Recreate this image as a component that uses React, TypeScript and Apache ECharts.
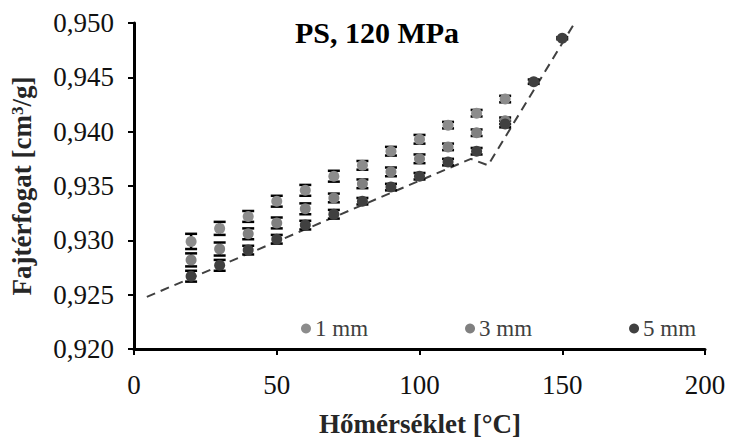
import React, { useEffect, useRef } from 'react';
import * as echarts from 'echarts';

const temps = [20, 30, 40, 50, 60, 70, 80, 90, 100, 110, 120, 130];
const temps5 = [20, 30, 40, 50, 60, 70, 80, 90, 100, 110, 120, 130, 140, 150];
const v1mm = [0.9299, 0.9311, 0.9322, 0.9336, 0.9346, 0.9359, 0.9369, 0.9382, 0.9393, 0.9406, 0.9417, 0.9430];
const v3mm = [0.9282, 0.9292, 0.9306, 0.9316, 0.9329, 0.9339, 0.9352, 0.9363, 0.9375, 0.9386, 0.9399, 0.9410];
const v5mm = [0.9267, 0.9277, 0.9291, 0.9301, 0.9314, 0.9324, 0.9336, 0.9349, 0.9359, 0.9372, 0.9382, 0.9407, 0.9446, 0.9486];
const e1mm = [0.0007, 0.0006, 0.0005, 0.0005, 0.0005, 0.0005, 0.0004, 0.0004, 0.0004, 0.0003, 0.0003, 0.0003];
const e3mm = [0.0006, 0.0006, 0.0005, 0.0005, 0.0005, 0.0004, 0.0004, 0.0004, 0.0004, 0.0003, 0.0003, 0.0003];
const e5mm = [0.0005, 0.0005, 0.0004, 0.0004, 0.0004, 0.0004, 0.0003, 0.0003, 0.0003, 0.0003, 0.0003, 0.0003, 0.0002, 0.0001];
const fitX = [4.5, 118, 124, 155];
const fitY = [0.9248, 0.9375, 0.9369, 0.9503];
const seriesNames = ['1 mm', '3 mm', '5 mm'];
const xTicks = [0, 50, 100, 150, 200];
const yTicks = [0.92, 0.925, 0.93, 0.935, 0.94, 0.945, 0.95];

const FONT = 'Liberation Serif';
const colors = ['#8c8c8c', '#808080', '#404040'];

function errSeries(xs: number[], ys: number[], es: number[]) {
  return {
    type: 'custom',
    silent: true,
    z: 1,
    data: xs.map((x, i) => [x, ys[i], es[i]]),
    renderItem: (params: any, api: any) => {
      const x = api.value(0);
      const y = api.value(1);
      const e = api.value(2);
      const top = api.coord([x, y + e]);
      const bot = api.coord([x, y - e]);
      const hw = 6;
      const st = { stroke: '#000', lineWidth: 2.5 };
      return {
        type: 'group',
        children: [
          { type: 'line', shape: { x1: top[0], y1: top[1], x2: bot[0], y2: bot[1] }, style: st },
          { type: 'line', shape: { x1: top[0] - hw, y1: top[1], x2: top[0] + hw, y2: top[1] }, style: st },
          { type: 'line', shape: { x1: bot[0] - hw, y1: bot[1], x2: bot[0] + hw, y2: bot[1] }, style: st },
        ],
      };
    },
  };
}

export default function App() {
  const ref = useRef<HTMLDivElement>(null);
  useEffect(() => {
    if (!ref.current) return;
    const chart = echarts.init(ref.current, undefined, { renderer: 'svg' });
    const fmt = (v: number) => v.toFixed(3).replace('.', ',');
    chart.setOption({
      animation: false,
      backgroundColor: '#fff',
      textStyle: { fontFamily: FONT },
      grid: { left: 134, right: 24, top: 23, bottom: 90, containLabel: false },
      xAxis: {
        type: 'value',
        min: xTicks[0],
        max: xTicks[xTicks.length - 1],
        interval: 50,
        axisLine: { show: true, lineStyle: { color: '#000', width: 3 } },
        axisTick: { show: true, inside: false, length: 6, lineStyle: { color: '#000', width: 2 } },
        axisLabel: { color: '#111', fontSize: 27, fontFamily: FONT, margin: 22 },
        splitLine: { show: false },
      },
      yAxis: {
        type: 'value',
        min: yTicks[0],
        max: yTicks[yTicks.length - 1],
        interval: 0.005,
        axisLine: { show: true, lineStyle: { color: '#000', width: 3 } },
        axisTick: { show: true, inside: false, length: 6, lineStyle: { color: '#000', width: 2 } },
        axisLabel: { color: '#111', fontSize: 27, fontFamily: FONT, margin: 20, formatter: fmt },
        splitLine: { show: false },
      },
      legend: {
        data: seriesNames,
        left: 296,
        top: 312,
        itemGap: 97,
        itemWidth: 10,
        itemHeight: 10,
        icon: 'circle',
        textStyle: { color: '#404040', fontSize: 23, fontFamily: FONT, padding: [0, 0, 0, -1] },
      },
      graphic: [
        {
          type: 'text',
          x: 377,
          y: 32,
          style: { text: 'PS, 120 MPa', font: `bold 30px ${FONT}`, fill: '#000', align: 'center', verticalAlign: 'middle' },
        },
        {
          type: 'text',
          x: 420,
          y: 424,
          style: { text: 'Hőmérséklet [°C]', font: `bold 27px ${FONT}`, fill: '#262626', align: 'center', verticalAlign: 'middle' },
        },
        {
          type: 'text',
          x: 22,
          y: 186,
          rotation: Math.PI / 2,
          style: {
            text: '{a|Fajtérfogat [cm}{s|3}{a|/g]}',
            align: 'center',
            verticalAlign: 'middle',
            rich: {
              a: { font: `bold 27px ${FONT}`, fill: '#262626' },
              s: { font: `bold 17px ${FONT}`, fill: '#262626', verticalAlign: 'top', padding: [0, 0, 10, 0] },
            },
          },
        },
      ],
      series: [
        {
          type: 'line',
          data: fitX.map((x, i) => [x, fitY[i]]),
          showSymbol: false,
          symbol: 'none',
          silent: true,
          z: 0,
          lineStyle: { color: '#404040', width: 2, type: [9, 6] },
        },
        errSeries(temps, v1mm, e1mm),
        errSeries(temps, v3mm, e3mm),
        errSeries(temps5, v5mm, e5mm),
        {
          name: seriesNames[0],
          type: 'scatter',
          z: 3,
          symbolSize: 11,
          itemStyle: { color: colors[0], opacity: 1 },
          data: temps.map((x, i) => [x, v1mm[i]]),
        },
        {
          name: seriesNames[1],
          type: 'scatter',
          z: 3,
          symbolSize: 11,
          itemStyle: { color: colors[1], opacity: 1 },
          data: temps.map((x, i) => [x, v3mm[i]]),
        },
        {
          name: seriesNames[2],
          type: 'scatter',
          z: 3,
          symbolSize: 11,
          itemStyle: { color: colors[2], opacity: 1 },
          data: temps5.map((x, i) => [x, v5mm[i]]),
        },
      ],
    });
    return () => chart.dispose();
  }, []);
  return <div ref={ref} style={{ position: 'fixed', left: 0, top: 0, width: 729, height: 439 }} />;
}
